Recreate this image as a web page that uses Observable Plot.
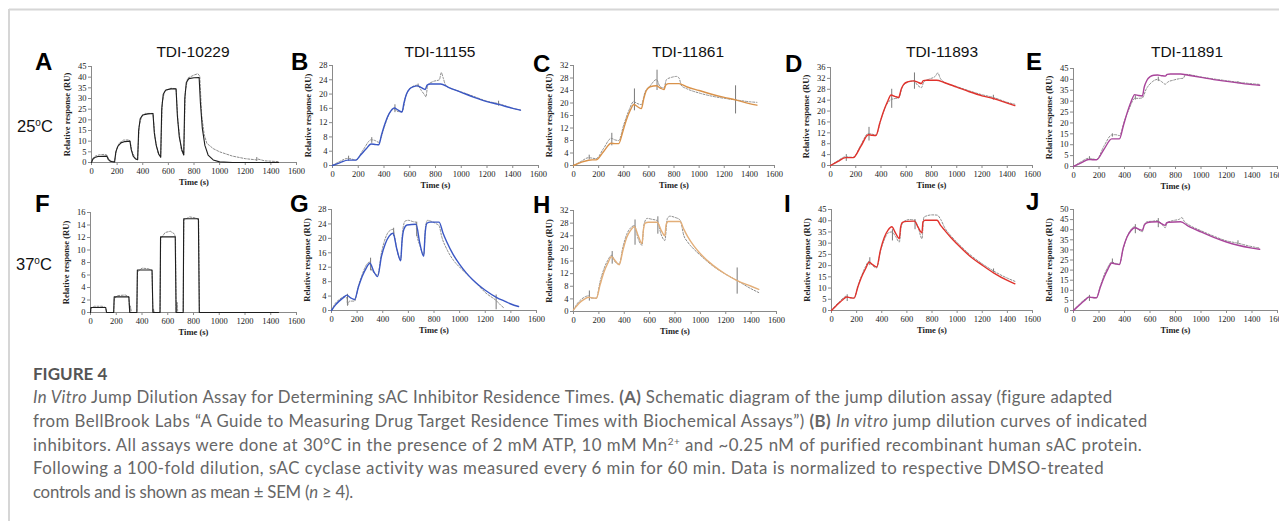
<!DOCTYPE html>
<html><head><meta charset="utf-8">
<script src="https://cdn.jsdelivr.net/npm/d3@7"></script>
<script src="https://cdn.jsdelivr.net/npm/@observablehq/plot@0.6"></script>
<style>
html,body{margin:0;padding:0;background:#fff;}
#wrap{position:relative;width:1279px;height:521px;overflow:hidden;background:#fff;}
</style></head><body><div id="wrap"></div>
<script>
// ---------------- DATA ----------------
const compounds = ["TDI-10229", "TDI-11155", "TDI-11861", "TDI-11893", "TDI-11891"];
const temperatures = ["25", "37"];
const panelLetters = ["A", "B", "C", "D", "E", "F", "G", "H", "I", "J"];
const xTicks = [0, 200, 400, 600, 800, 1000, 1200, 1400, 1600];
const yAxisLabel = "Relative response (RU)";
const xAxisLabel = "Time (s)";

// [time (s), response (RU)] — fitted curves (solid) and measured data (dashed)
const fitA = [[0,0],[10,1.5],[25,2.3],[50,2.8],[120,3.0],[130,1.5],[145,0.6],[175,0.2],[180,0.2],[190,5],[205,7.5],[230,9.2],[260,9.8],[300,10],[310,6],[325,3],[345,1.6],[360,1.3],[368,15],[380,20.5],[400,22.3],[440,22.8],[480,23],[490,14],[505,8],[525,4],[540,2.5],[548,25],[560,32],[580,34],[620,34.5],[660,34.6],[670,22],[685,12],[705,6],[720,3.5],[728,30],[740,37.5],[760,39.3],[800,39.7],[840,39.8],[850,28],[865,16],[885,8],[910,3.5],[950,1.2],[1000,0.3],[1100,0],[1460,0]];
const obsA = [[0,0],[10,2],[30,3],[60,3.6],[100,3.8],[120,3.5],[135,1.5],[160,0.5],[180,0.5],[195,6],[215,9],[250,10.5],[290,10.6],[300,10.2],[315,5.5],[340,2],[360,1.5],[372,17],[390,21.5],[420,23],[480,23],[495,12],[520,4],[540,2.5],[552,28],[570,33.5],[620,34.8],[660,34.6],[675,19],[700,6],[720,3.5],[732,33],[750,39.5],[800,41],[830,41.6],[845,40.5],[860,22],[880,13],[900,9],[950,6.5],[1000,5],[1100,3],[1200,1.8],[1290,1.2],[1300,1.6],[1350,0.8],[1460,0.4]];
const barsA = [[1290,0.5,2.3]];

const fitB = [[0,0],[60,0.8],[120,1.5],[150,1.5],[180,1.5],[220,3],[260,4.6],[300,6],[330,5.9],[360,5.8],[380,8.5],[410,12],[440,14.5],[480,16.1],[510,15.5],[540,15],[555,17.5],[575,20],[600,21.5],[630,22.1],[660,22.3],[690,21.8],[720,21.3],[735,22.5],[760,22.8],[840,22.8],[900,21.9],[1000,20.5],[1100,19.1],[1200,17.9],[1290,17.1],[1400,16.0],[1460,15.5]];
const obsB = [[0,0],[60,1.2],[120,2],[150,1.8],[180,1.5],[240,4.5],[300,7.2],[330,7],[360,6.5],[400,10.5],[440,14.5],[480,15.8],[500,15.2],[540,15],[570,19.5],[600,21.5],[660,22.5],[690,21],[720,19.5],[725,19.2],[740,22.5],[780,23.5],[830,24],[845,26],[860,24.5],[880,22.4],[950,21.2],[1000,20.6],[1100,19.3],[1200,18],[1290,17.3],[1400,16],[1460,15.5]];
const barsB = [[125,1.2,2.6],[305,6.2,7.8],[485,14.8,17],[665,21.8,22.8],[1290,16.6,18.0]];

const fitC = [[0,0],[60,1],[120,1.7],[150,1.8],[180,1.8],[240,4.5],[300,7.1],[330,7],[360,7],[390,10.5],[420,14.5],[450,17.5],[480,19.5],[510,18.8],[540,18.2],[560,21.5],[580,24],[610,25.2],[660,25.5],[690,24.8],[720,24.3],[735,25.8],[760,26.2],[840,26.2],[900,25.2],[1000,24],[1100,22.8],[1200,21.8],[1290,21],[1400,19.8],[1460,19.3]];
const obsC = [[0,0],[60,1.3],[120,2.5],[180,2.2],[240,5.5],[300,8.7],[330,8.2],[360,8],[400,13],[440,17.5],[480,20.5],[500,20],[540,19.5],[570,23.5],[610,25.5],[660,27.5],[690,25.2],[720,24.8],[740,27.5],[780,28.2],[820,28.5],[840,28],[860,25.5],[900,24.6],[1000,23.2],[1100,22.2],[1200,21.5],[1290,21],[1400,20.4],[1460,20.2]];
const barsC = [[125,1.8,3.3],[305,6.3,10.3],[485,17.5,24.5],[665,24,30.5],[1290,16.5,25.5]];

const fitD = [[0,0],[60,1.5],[120,2.9],[150,2.9],[180,2.9],[240,7],[300,11.3],[330,11.1],[360,11],[390,15.5],[420,19.8],[450,23.3],[480,25.9],[510,25.4],[540,25],[560,28],[580,29.8],[610,30.7],[660,31.1],[690,30.6],[720,30.1],[735,31.2],[760,31.3],[840,31.3],[900,30.5],[1000,28.8],[1100,27.1],[1200,25.6],[1290,24.6],[1400,22.9],[1460,22]];
const obsD = [[0,0],[60,1.8],[120,3.2],[180,3],[240,7.5],[300,11.8],[330,11.5],[360,11.2],[400,17],[440,22],[480,24.2],[500,24.5],[540,24.8],[570,29],[610,30.6],[660,31],[690,29.5],[720,28.6],[740,30.8],[780,31.7],[830,32.8],[850,34],[870,32],[900,30.6],[1000,29],[1100,27.4],[1200,26],[1290,25],[1400,23.2],[1460,22.5]];
const barsD = [[125,1.5,4],[305,9,14],[485,21,28],[665,28,34],[1290,24,25.8]];

const fitE = [[0,0],[60,1.7],[120,3.2],[150,3.1],[180,3.1],[240,8],[300,12.7],[330,12.7],[360,12.7],[390,18.5],[420,24.5],[450,29.5],[480,33],[510,32.6],[540,32.4],[555,36.5],[575,39.5],[600,41.2],[630,41.9],[660,42],[690,41.7],[720,41.5],[735,42.3],[760,42.5],[840,42.5],[900,41.9],[1000,40.9],[1100,39.9],[1200,39.1],[1290,38.4],[1400,37.6],[1460,37.3]];
const obsE = [[0,0],[60,2.2],[120,3.8],[180,3.2],[240,9.5],[300,14.5],[330,14.6],[360,14.2],[400,21],[440,27],[480,31.3],[510,31.3],[540,31.5],[570,35.5],[610,38.5],[660,40],[690,39],[720,37.8],[740,38.8],[780,39.6],[840,40.4],[860,40.5],[880,42.3],[1000,41.1],[1100,40.2],[1200,39.4],[1290,38.7],[1400,38],[1460,37.7]];
const barsE = [[125,3,4.5],[305,13.5,15],[485,30.5,32.5],[665,39,41],[1290,38,39]];

const fitF = [[0,0],[3,0.8],[118,0.8],[125,0],[180,0],[184,2.5],[298,2.5],[305,0],[360,0],[364,6.8],[478,6.8],[485,0],[540,0],[544,12.1],[658,12.1],[665,0],[720,0],[724,15],[838,15],[845,0],[1460,0]];
const obsF = [[0,0],[5,0.7],[30,1.0],[90,1.0],[118,0.8],[124,0],[180,0],[185,2.2],[210,2.7],[270,2.8],[298,2.5],[303,0.3],[310,1],[318,0],[360,0],[365,6.5],[400,7.1],[450,7.0],[478,6.7],[484,0],[490,0.4],[495,0],[540,0],[545,11.8],[580,12.8],[620,13],[650,12.6],[660,12.1],[665,0],[672,1.6],[678,0],[720,0],[725,14.8],[770,15.3],[820,15.1],[840,14.8],[846,0],[1460,0]];
const barsF = [[305,0,1.1],[490,0,0.5],[670,0,1.6]];

const fitG = [[0,0],[30,1.5],[60,2.6],[90,3.5],[120,4.25],[150,3.5],[180,3.05],[210,6.5],[240,9.5],[270,11.7],[300,13.1],[330,10.8],[360,9.4],[390,15],[420,18.5],[450,20.6],[480,21.4],[510,17],[540,13.8],[550,19],[565,22.5],[590,23.7],[660,23.9],[690,18.5],[720,15],[730,21],[745,24.2],[770,24.5],[840,24.5],[870,21.5],[900,19],[950,15.5],[1000,12.8],[1050,10.5],[1100,8.6],[1150,7],[1200,5.6],[1290,3.6],[1350,2.6],[1400,1.8],[1460,1.1]];
const obsG = [[0,0],[30,2],[60,3],[100,3.8],[120,3.5],[125,1.5],[140,2.6],[180,2.6],[210,6.8],[240,10],[270,12.5],[300,13.5],[305,12],[330,10.5],[360,9.8],[390,16],[420,20],[450,22],[480,22.5],[490,21],[510,17],[540,14],[555,22],[575,24.8],[600,25],[640,24.6],[660,24.5],[665,21.5],[690,18],[720,15.5],[735,23.5],[750,25],[780,24.7],[820,24],[840,23.5],[860,20.5],[900,17],[950,14],[1000,12],[1050,10.3],[1100,8.6],[1150,6.8],[1200,5],[1290,2.6],[1320,1.5],[1350,0.6]];
const barsG = [[125,1.2,4.5],[305,11,14.5],[485,20.5,22.8],[665,20.5,24.5],[1285,0.2,4.3]];

const fitH = [[0,0.5],[30,2],[60,3.2],[90,4],[120,4.5],[150,4.3],[180,4.2],[210,8.5],[240,12.5],[270,15.3],[300,17.4],[330,16],[360,14.8],[390,19.5],[420,23.5],[450,25.7],[480,26.9],[510,24],[540,21.5],[550,25.5],[565,28],[590,28.3],[660,28.3],[690,25.8],[720,24],[730,27.5],[745,28.5],[840,28.5],[870,26],[900,23.7],[950,20.7],[1000,18.3],[1100,14.6],[1200,11.8],[1290,9.8],[1400,8],[1460,7]];
const obsH = [[0,0.5],[30,2.5],[60,3.8],[100,4.8],[120,5],[135,4.3],[180,4.2],[210,9.5],[240,13.5],[270,16.2],[300,17.8],[330,15.6],[360,15],[390,20.5],[420,24.5],[450,26.5],[480,27.2],[510,23],[540,21],[555,27.5],[580,29.5],[620,29.2],[660,28.8],[690,24.5],[720,22.5],[740,29.5],[760,30.2],[800,29.8],[840,29],[870,24],[900,22],[950,19.7],[1000,17.8],[1100,14.4],[1200,11.8],[1290,9.8],[1400,7.2],[1460,6]];
const barsH = [[125,3.3,6.5],[305,15,19],[485,21,29],[665,24.5,30],[1290,5.5,13.8]];

const fitI = [[0,0],[30,1.7],[60,3.3],[90,4.8],[120,6],[150,5.7],[180,5.5],[210,10.5],[240,15],[270,18.5],[300,21.5],[330,20.3],[360,19.4],[390,27],[420,32.5],[450,35.8],[480,37.3],[510,34.5],[540,32],[550,37],[565,39.3],[600,39.7],[660,39.8],[690,37],[720,34.6],[728,39.5],[745,40.2],[840,40.2],[870,37.8],[900,35.8],[950,32.5],[1000,29.6],[1100,24.3],[1200,20.2],[1290,16.8],[1400,13.4],[1460,11.9]];
const obsI = [[0,0],[30,2],[60,3.8],[100,5.8],[120,6.5],[135,5.8],[180,5.6],[210,11],[240,15.5],[270,19.5],[300,22],[320,20.5],[360,19],[390,26.5],[420,31.5],[450,34.5],[480,35],[510,33],[540,30.5],[555,37.5],[580,39.8],[620,40.5],[660,40.3],[690,37],[720,32],[735,41.5],[760,42.2],[800,42.6],[840,42.5],[870,40.5],[900,37],[950,33.3],[1000,30.3],[1100,25],[1200,20.8],[1290,17.6],[1400,14.4],[1460,13]];
const barsI = [[125,4,7],[305,20,23.5],[485,31,36],[665,36,40.5],[1290,17,18.5]];

const fitJ = [[0,0],[30,1.8],[60,3.5],[90,5.1],[120,6.6],[150,6.4],[180,6.3],[210,11.5],[240,16.5],[270,20.5],[300,23.5],[330,23],[360,22.7],[390,31],[420,36.4],[450,39.5],[480,41],[510,40.3],[540,39.7],[555,42.2],[575,43.4],[610,43.8],[660,43.9],[690,43],[720,42.2],[730,43.4],[745,43.7],[840,43.9],[900,41.8],[1000,38.9],[1100,36.2],[1200,33.9],[1290,32.3],[1400,30.9],[1460,30.3]];
const obsJ = [[0,0],[30,2],[60,4],[100,6],[120,6.8],[135,6.5],[180,6.2],[210,12],[240,17.5],[270,21.5],[300,24],[330,23.3],[360,23],[390,30.5],[420,36.5],[450,40],[480,41.5],[500,40.5],[540,39],[555,42.5],[580,44],[620,44.2],[660,44.5],[690,43],[720,41],[735,43.5],[780,44.5],[830,45.2],[850,46],[870,44],[900,42.6],[1000,39.5],[1100,36.8],[1200,34.5],[1290,33.3],[1400,31.6],[1460,30.9]];
const barsJ = [[125,4.5,7.5],[305,23,25.5],[485,38,42.5],[665,41,45.5],[1290,32.5,34.5]];

const yMaxes = [45, 28, 32, 36, 45, 16, 28, 32, 45, 50];
const ySteps = [5, 4, 4, 4, 5, 2, 4, 4, 5, 5];

// ---------------- LAYOUT / STYLE ----------------
const fits = [fitA, fitB, fitC, fitD, fitE, fitF, fitG, fitH, fitI, fitJ];
const obs = [obsA, obsB, obsC, obsD, obsE, obsF, obsG, obsH, obsI, obsJ];
const bars = [barsA, barsB, barsC, barsD, barsE, barsF, barsG, barsH, barsI, barsJ];
const fitColors = ["#1e1e1e", "#3a57c4", "#d9924a", "#e0322c", "#a8449a", "#1e1e1e", "#3a57c4", "#e3ae78", "#e0322c", "#a8449a"];
// [x of t=0, x of t=1600, y of 0, y of max] in page pixels
const geo = [[91,296,162,66],[332,538,165,65],[573,774,165,65],[830,1032,165,67],[1073,1277,166,68],
             [90,296,312,212],[331,536,310,209],[573,776,311,210],[831,1032,310,209],[1073,1277,310,209]];

const wrap = document.getElementById("wrap");
const ML = 42, MR = 14, MT = 8, MB = 30;

for (let i = 0; i < 10; i++) {
  const [x0, x1, y0, y1] = geo[i];
  const width = ML + (x1 - x0) + MR;
  const height = MT + (y0 - y1) + MB;
  const sharp = (i === 0 || i === 5);
  const svg = Plot.plot({
    width, height,
    marginLeft: ML, marginRight: MR, marginTop: MT, marginBottom: MB,
    style: {fontFamily: "'Liberation Serif', 'Times New Roman', serif", fontSize: "8.5px", color: "#222", background: "transparent", overflow: "visible"},
    x: {domain: [0, 1600], axis: null},
    y: {domain: [0, yMaxes[i]], axis: null},
    marks: [
      Plot.axisX(xTicks, {tickSize: 3, tickPadding: 2, stroke: "#8a8a8a", label: null, fill: "#222", tickFormat: d => String(d)}),
      Plot.axisY(d3.range(0, yMaxes[i] + 0.001, ySteps[i]), {tickSize: 3, tickPadding: 2, stroke: "#8a8a8a", label: null, fill: "#222", tickFormat: d => String(d)}),
      Plot.ruleY([0], {stroke: "#8a8a8a"}),
      Plot.ruleX([0], {stroke: "#8a8a8a"}),
      Plot.ruleX(bars[i], {x: d => d[0], y1: d => d[1], y2: d => d[2], stroke: "#6a6a6a", strokeWidth: 0.9}),
      Plot.line(obs[i], {x: d => d[0], y: d => d[1], stroke: "#8c8c8c", strokeWidth: 1, strokeDasharray: "2,1.6", curve: sharp ? "linear" : "monotone-x"}),
      Plot.line(fits[i], {x: d => d[0], y: d => d[1], stroke: fitColors[i], strokeWidth: sharp ? 1.1 : 1.4, curve: sharp ? "linear" : "monotone-x"}),
      Plot.text([yAxisLabel], {frameAnchor: "left", textAnchor: "middle", rotate: -90, dx: -24, fontWeight: "bold", fontSize: 8.5, fill: "#222"}),
      Plot.text([xAxisLabel], {frameAnchor: "bottom", textAnchor: "middle", lineAnchor: "middle", dy: 20, fontWeight: "bold", fontSize: 8.5, fill: "#222"})
    ]
  });
  svg.style.position = "absolute";
  svg.style.left = (x0 - ML) + "px";
  svg.style.top = (y1 - MT) + "px";
  wrap.appendChild(svg);
}

// ---------------- OVERLAY TEXT ----------------
const ov = d3.select(wrap).append("svg")
  .attr("width", 1279).attr("height", 521)
  .style("position", "absolute").style("left", "0px").style("top", "0px");

ov.append("line").attr("x1", 9).attr("x2", 1279).attr("y1", 9.5).attr("y2", 9.5).attr("stroke", "#d6d6d6").attr("stroke-width", 2);
ov.append("line").attr("x1", 9).attr("x2", 9).attr("y1", 9).attr("y2", 521).attr("stroke", "#d6d6d6").attr("stroke-width", 2);

const sans = "'Liberation Sans', Arial, sans-serif";
const titleX = [193, 440, 688, 942, 1187];
compounds.forEach((c, k) => {
  ov.append("text").attr("x", titleX[k]).attr("y", 57).attr("text-anchor", "middle")
    .attr("font-family", sans).attr("font-size", 15.5).attr("fill", "#111").text(c);
});
const letterPos = [[35,70],[291,70],[533,72],[785,72],[1026,70],[35,212],[290,212],[533,213],[784,212],[1026,210]];
panelLetters.forEach((L, k) => {
  ov.append("text").attr("x", letterPos[k][0]).attr("y", letterPos[k][1])
    .attr("font-family", sans).attr("font-weight", "bold").attr("font-size", 24).attr("fill", "#000").text(L);
});
const tempPos = [[17,132],[16,270]];
temperatures.forEach((t, k) => {
  const tx = ov.append("text").attr("x", tempPos[k][0]).attr("y", tempPos[k][1])
    .attr("font-family", sans).attr("font-size", 16.5).attr("fill", "#111");
  tx.append("tspan").text(t);
  tx.append("tspan").attr("font-size", 10).attr("dy", -6).text("o");
  tx.append("tspan").attr("dy", 6).text("C");
});

// caption
const capFont = "Lato, 'Open Sans', sans-serif";
ov.append("text").attr("x", 33).attr("y", 380).attr("font-family", capFont).attr("font-weight", "bold")
  .attr("font-size", 17).attr("fill", "#555").text("FIGURE 4");

const captionLines = [
  [["i","In Vitro"],["n"," Jump Dilution Assay for Determining sAC Inhibitor Residence Times. "],["b","(A)"],["n"," Schematic diagram of the jump dilution assay (figure adapted"]],
  [["n","from BellBrook Labs “A Guide to Measuring Drug Target Residence Times with Biochemical Assays”) "],["b","(B)"],["n"," "],["i","In vitro"],["n"," jump dilution curves of indicated"]],
  [["n","inhibitors. All assays were done at 30°C in the presence of 2 mM ATP, 10 mM Mn"],["s","2+"],["r"," and ~0.25 nM of purified recombinant human sAC protein."]],
  [["n","Following a 100-fold dilution, sAC cyclase activity was measured every 6 min for 60 min. Data is normalized to respective DMSO-treated"]],
  [["n","controls and is shown as mean ± SEM ("],["i","n"],["n"," ≥ 4)."]]
];
const capY = [403, 427, 451, 474, 498];
const capW = [1080, 1115, 1109, 1072, 320];
const capNodes = captionLines.map((parts, k) => {
  const t = ov.append("text").attr("x", 33).attr("y", capY[k]).attr("font-family", capFont)
    .attr("font-size", 16.8).attr("fill", "#666");
  parts.forEach(([kind, s]) => {
    const sp = t.append("tspan").text(s);
    if (kind === "i") sp.attr("font-style", "italic");
    if (kind === "b") sp.attr("font-weight", "bold");
    if (kind === "s") sp.attr("font-size", 10).attr("dy", -6);
    if (kind === "r") sp.attr("dy", 6);
  });
  return t;
});
function fitCaption() {
  capNodes.forEach((t, k) => {
    t.style("letter-spacing", "0px");
    const w = t.node().getBBox().width;
    const ls = (capW[k] - w) / t.text().length;
    t.style("letter-spacing", ls.toFixed(3) + "px");
  });
}
fitCaption();
if (document.fonts && document.fonts.ready) document.fonts.ready.then(fitCaption);
</script></body></html>
